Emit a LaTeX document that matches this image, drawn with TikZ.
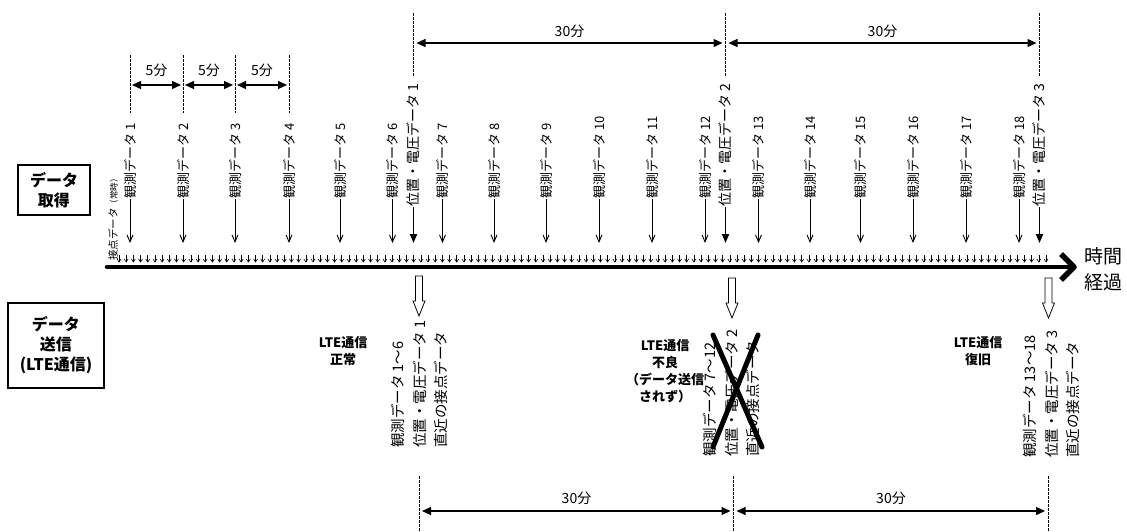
\documentclass[tikz,border=0pt]{standalone}
\usepackage{fontspec}
\setmainfont{Noto Sans CJK JP}
\usetikzlibrary{arrows.meta,calc}
\begin{document}
\begin{tikzpicture}[x=1pt,y=-1pt,
  obslbl/.style={rotate=90,anchor=west,inner sep=0pt,font=\fontsize{13}{15}\selectfont},
  poslbl/.style={rotate=90,anchor=west,inner sep=0pt,font=\fontsize{14}{16}\selectfont},
  btxt/.style={rotate=90,anchor=west,inner sep=0pt,font=\fontsize{14.5}{16}\selectfont},
  obsarr/.style={line width=0.9pt,-{Straight Barb[length=7pt,width=6pt]}},
  posarr/.style={line width=1.8pt,-{Triangle[length=9pt,width=7pt]}},
  tinyarr/.style={line width=0.6pt,-{Straight Barb[length=3pt,width=4pt]}},
  dashline/.style={line width=0.7pt,dash pattern=on 2.5pt off 1.5pt},
  dblarr/.style={line width=1.2pt,{Triangle[length=9pt,width=8pt]}-{Triangle[length=9pt,width=8pt]}},
  durlbl/.style={font=\fontsize{14}{16}\selectfont,inner sep=0pt},
  lte/.style={font=\bfseries\fontsize{13}{17}\selectfont,align=center,inner sep=0pt},
  sidebox/.style={draw,line width=1.1pt,font=\bfseries\fontsize{16}{20}\selectfont,align=center,inner sep=0pt},
  hollow/.pic={\draw[line width=0.8pt,fill=white] (-3.5,0) -- (3.5,0) -- (3.5,25) -- (6,25) -- (0,40) -- (-6,25) -- (-3.5,25) -- cycle;}
]
\useasboundingbox (0,0) rectangle (1127,531);

% side boxes
\node[sidebox,minimum width=72pt,minimum height=50pt] (acq) at (54,190) {データ\\取得};
\node[sidebox,minimum width=96pt,minimum height=85pt] (send) at (56,345.5) {データ\\送信\\(LTE通信)};

% contact data label
\node[rotate=90,anchor=west,inner sep=0pt,font=\fontsize{10.5}{12}\selectfont] (cont) at (113,261) {接点データ{\fontsize{8.5}{10}\selectfont （常時）}};

% tiny arrows
\foreach \k in {0,...,129} {
  \coordinate (ta\k) at ({119+\k*7.186},255);
  \coordinate (tb\k) at ({119+\k*7.186},262.5);
  \draw[tinyarr] (ta\k) -- (tb\k);
}

% main axis
\coordinate (axL) at (107,267);
\coordinate (axR) at (1074,267);
\draw[line width=4.5pt,line cap=round] (axL) -- (axR);
\draw[line width=5.5pt,line join=round] ([shift={(-13,-13)}]axR) -- (axR) -- ([shift={(-13,13)}]axR);
\node[anchor=west,align=left,inner sep=0pt,font=\fontsize{19}{26}\selectfont] (time) at (1084,269) {時間\\経過};

% observation data
\foreach \i/\x in {1/130,2/183,3/235,4/289,5/340,6/392.5,7/442.5,8/494,9/546,10/599,11/652,12/705,13/758.5,14/810,15/860.5,16/913,17/966,18/1019} {
  \node[obslbl] (o\i) at (\x,199) {観測データ \i};
  \coordinate (oe\i) at (\x,243);
  \draw[obsarr] (o\i.west) -- (oe\i);
}

% position/voltage data
\foreach \i/\x in {1/413.5,2/725.5,3/1039.5} {
  \node[poslbl] (p\i) at (\x,207) {位置・電圧データ \i};
  \coordinate (pe\i) at (\x,243);
  \draw[posarr] (p\i.west) -- (pe\i);
  \coordinate (pt\i) at (\x,13);
  \coordinate (pb\i) at (\x,76);
  \draw[dashline] (pt\i) -- (pb\i);
  \coordinate (pm\i) at (\x,43);
}

% 5 min dashed lines
\foreach \i/\x in {1/130,2/183,3/235,4/289} {
  \coordinate (ft\i) at (\x,55);
  \coordinate (fb\i) at (\x,113);
  \draw[dashline] (ft\i) -- (fb\i);
  \coordinate (fm\i) at (\x,85);
}
\foreach \a/\b in {1/2,2/3,3/4} {
  \draw[dblarr,shorten <=2pt,shorten >=2pt] (fm\a) -- (fm\b);
  \node[durlbl] (fl\a) at ($(fm\a)!0.5!(fm\b)+(0,-15)$) {5分};
}

% top 30 min
\draw[dblarr,shorten <=3pt,shorten >=3pt] (pm1) -- (pm2);
\draw[dblarr,shorten <=3pt,shorten >=3pt] (pm2) -- (pm3);
\node[durlbl] (tl1) at (569.5,31) {30分};
\node[durlbl] (tl2) at (882.5,31) {30分};

% hollow arrows
\pic (h1) at (419,276) {hollow};
\pic (h2) at (732,278) {hollow};
\pic (h3) at (1048.5,278) {hollow};

% bottom texts
\node[btxt] (b11) at (398,448) {観測データ 1～6};
\node[btxt] (b12) at (420,448) {位置・電圧データ 1};
\node[btxt] (b13) at (441,448) {直近の接点データ};
\node[btxt] (b21) at (710,457) {観測データ 7～12};
\node[btxt] (b22) at (732,457) {位置・電圧データ 2};
\node[btxt] (b23) at (753,457) {直近の接点データ};
\node[btxt] (b31) at (1030,458) {観測データ 13～18};
\node[btxt] (b32) at (1052,458) {位置・電圧データ 3};
\node[btxt] (b33) at (1073,458) {直近の接点データ};

% cross
\coordinate (xa) at (713,335);
\coordinate (xb) at (762,447);
\coordinate (xc) at (758,335);
\coordinate (xd) at (713,447);
\draw[line width=5pt,line cap=round] (xa) -- (xb);
\draw[line width=5pt,line cap=round] (xc) -- (xd);

% LTE labels
\node[lte] (l1) at (343,351.5) {LTE通信\\正常};
\node[lte] (l2) at (665,371.5) {LTE通信\\不良\\（データ送信\\されず）};
\node[lte] (l3) at (978,351.5) {LTE通信\\復旧};

% bottom 30 min
\foreach \i/\x in {1/419,2/733.5,3/1048} {
  \coordinate (bt\i) at (\x,476);
  \coordinate (bb\i) at (\x,531);
  \draw[dashline] (bt\i) -- (bb\i);
  \coordinate (bm\i) at (\x,511);
}
\draw[dblarr,shorten <=3pt,shorten >=3pt] (bm1) -- (bm2);
\draw[dblarr,shorten <=3pt,shorten >=3pt] (bm2) -- (bm3);
\node[durlbl] (bl1) at (576.5,498) {30分};
\node[durlbl] (bl2) at (891,498) {30分};
\end{tikzpicture}
\end{document}
